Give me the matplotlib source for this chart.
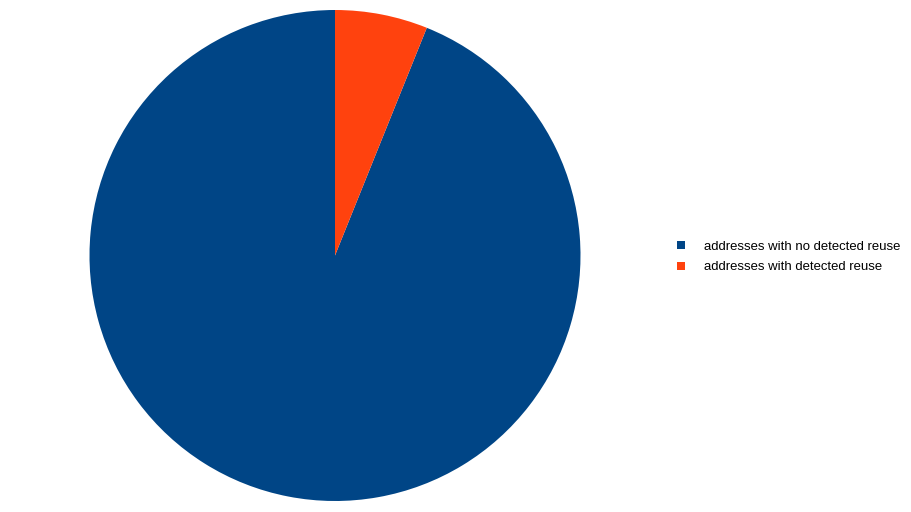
import matplotlib.pyplot as plt
from matplotlib.patches import Patch

labels = ["addresses with no detected reuse", "addresses with detected reuse"]
values = [93.9, 6.1]
colors = ["#004586", "#ff420e"]

plt.rcParams['font.family'] = ['Liberation Sans', 'DejaVu Sans']

fig = plt.figure(figsize=(9.11, 5.12), dpi=100)
W, H = 911, 512
cx, cy, r = 335, 255.5, 245.5
ax = fig.add_axes([(cx - r) / W, (H - cy - r) / H, 2 * r / W, 2 * r / H])
ax.pie(values, colors=colors, startangle=90, counterclock=True,
       wedgeprops=dict(linewidth=0))
ax.set_xlim(-1, 1)
ax.set_ylim(-1, 1)
ax.set_aspect('equal')
ax.axis('off')

handles = [Patch(facecolor=c, edgecolor='none') for c in colors]
leg = fig.legend(handles, labels, loc='center left', bbox_to_anchor=(665 / W, 1 - 257 / H),
                 frameon=False, fontsize=9.45, handlelength=0.62, handleheight=0.62,
                 handletextpad=1.45, labelspacing=0.68)

fig.savefig("out.png", dpi=100)
